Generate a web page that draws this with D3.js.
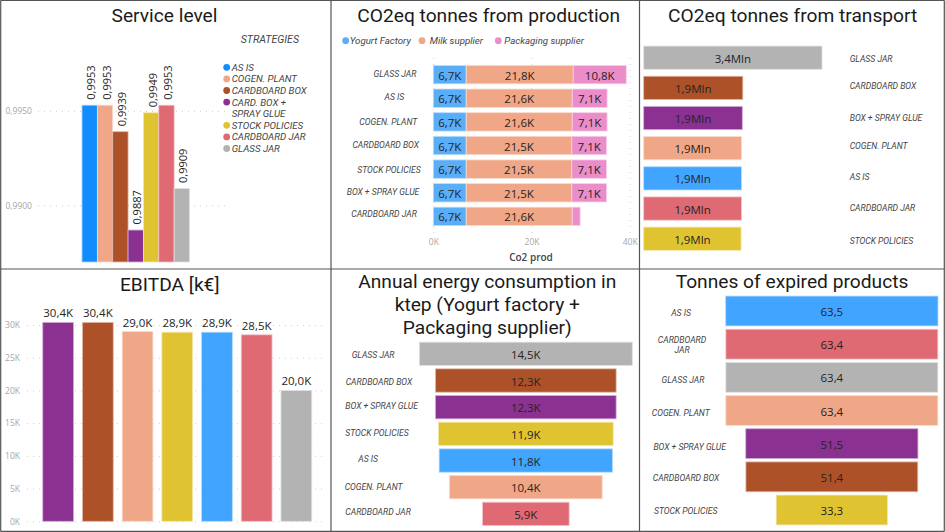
<!DOCTYPE html>
<html>
<head>
<meta charset="utf-8">
<script src="https://cdn.jsdelivr.net/npm/d3@7"></script>
<style>
  html, body { margin: 0; padding: 0; background: #fff; overflow: hidden; }
  text { font-family: 'Open Sans', sans-serif; }
  .title { font-family: Roboto, sans-serif; font-size: 19.2px; fill: #1a1a1a; text-anchor: middle; }
  .cat { font-family: Roboto, sans-serif; font-style: italic; font-size: 8.6px; fill: #444; }
  .leg { font-family: Roboto, sans-serif; font-style: italic; font-size: 9.7px; fill: #444; }
  .val { font-size: 11.5px; fill: #252423; text-anchor: middle; }
  .tick text { font-size: 8.5px; fill: #a6a6a6; }
  .tick line { stroke: #cfcfcf; stroke-dasharray: 1 5; }
  .domain { display: none; }
</style>
</head>
<body>
<svg id="chart" width="945" height="532"></svg>
<script>
"use strict"

var strategyColors = {
  'AS IS': '#41A4FF',
  'COGEN. PLANT': '#F0A787',
  'CARDBOARD BOX': '#AD5128',
  'BOX + SPRAY GLUE': '#8A3192',
  'STOCK POLICIES': '#E0C330',
  'CARDBOARD JAR': '#DF6A73',
  'GLASS JAR': '#B3B3B3'
};

// service level
var serviceCats = ['AS IS', 'COGEN. PLANT', 'CARDBOARD BOX', 'BOX + SPRAY GLUE', 'STOCK POLICIES', 'CARDBOARD JAR', 'GLASS JAR'];
var serviceVals = [0.9953, 0.9953, 0.9939, 0.9887, 0.9949, 0.9953, 0.9909];
var serviceTicks = [0.99, 0.995];
var legendLabels = [['AS IS'], ['COGEN. PLANT'], ['CARDBOARD BOX'], ['CARD. BOX +', 'SPRAY GLUE'], ['STOCK POLICIES'], ['CARDBOARD JAR'], ['GLASS JAR']];

// CO2 from production, k tonnes
var prodCats = ['GLASS JAR', 'AS IS', 'COGEN. PLANT', 'CARDBOARD BOX', 'STOCK POLICIES', 'BOX + SPRAY GLUE', 'CARDBOARD JAR'];
var prodSeries = ['Yogurt Factory', 'Milk supplier', 'Packaging supplier'];
var prodYogurt = [6.7, 6.7, 6.7, 6.7, 6.7, 6.7, 6.7];
var prodMilk = [21.8, 21.6, 21.6, 21.5, 21.5, 21.5, 21.6];
var prodPack = [10.8, 7.1, 7.1, 7.1, 7.1, 7.1, 1.6];
var prodTicks = [0, 20, 40];

// CO2 from transport, Mln tonnes
var transCats = ['GLASS JAR', 'CARDBOARD BOX', 'BOX + SPRAY GLUE', 'COGEN. PLANT', 'AS IS', 'CARDBOARD JAR', 'STOCK POLICIES'];
var transVals = [3.4, 1.89, 1.88, 1.865, 1.865, 1.865, 1.857];

// EBITDA
var ebitdaCats = ['BOX + SPRAY GLUE', 'CARDBOARD BOX', 'COGEN. PLANT', 'STOCK POLICIES', 'AS IS', 'CARDBOARD JAR', 'GLASS JAR'];
var ebitdaVals = [30.4, 30.4, 29.0, 28.9, 28.9, 28.5, 20.0];
var ebitdaTicks = [0, 5, 10, 15, 20, 25, 30];

// energy funnel
var energyCats = ['GLASS JAR', 'CARDBOARD BOX', 'BOX + SPRAY GLUE', 'STOCK POLICIES', 'AS IS', 'COGEN. PLANT', 'CARDBOARD JAR'];
var energyVals = [14.5, 12.3, 12.3, 11.9, 11.8, 10.4, 5.9];

// expired funnel
var expiredCats = ['AS IS', 'CARDBOARD JAR', 'GLASS JAR', 'COGEN. PLANT', 'BOX + SPRAY GLUE', 'CARDBOARD BOX', 'STOCK POLICIES'];
var expiredVals = [63.5, 63.4, 63.4, 63.4, 51.5, 51.4, 33.3];

var svg = d3.select('#chart');
var comma = d3.formatLocale({ decimal: ',', thousands: '.', grouping: [3], currency: ['', '€'] });
var f1 = comma.format('.1f');
var f4 = comma.format('.4f');
var tickK = d => d + 'K';

function title(lines, x, y, step) {
  lines.forEach((t, i) => {
    svg.append('text').attr('class', 'title').attr('x', x).attr('y', y + i * step).text(t);
  });
}

// cat labels are hand placed text boxes in the original, so they get their own spots
function catLabels(names, xs, ys, anchor) {
  names.forEach((n, i) => {
    svg.append('text').attr('class', 'cat')
      .attr('x', xs[i]).attr('y', ys[i] + 3.2)
      .attr('text-anchor', anchor)
      .text(n);
  });
}

function bar(sel, color) {
  return sel.attr('fill', color)
    .attr('stroke', d3.interpolateRgb(color, '#fff')(0.6))
    .attr('stroke-width', 0.8);
}

// service level ------------------------------------------------------
var sx = d3.scaleBand().domain(serviceCats).range([82, 189.5]);
var sy = d3.scaleLinear().domain([0.98701, 0.9953]).range([262, 105.2]);

svg.append('g').attr('transform', 'translate(38,0)')
  .call(d3.axisLeft(sy).tickValues(serviceTicks).tickFormat(f4).tickSize(-192).tickPadding(6));

serviceCats.forEach((c, i) => {
  var color = c == 'AS IS' ? '#118DFF' : strategyColors[c];
  bar(svg.append('rect'), color)
    .attr('x', sx(c)).attr('width', sx.bandwidth())
    .attr('y', sy(serviceVals[i])).attr('height', sy.range()[0] - sy(serviceVals[i]));
  svg.append('text').attr('class', 'val')
    .attr('transform', 'translate(' + (sx(c) + sx.bandwidth() / 2 + 5.5) + ',' + (sy(serviceVals[i]) - 5.5) + ') rotate(-90)')
    .style('text-anchor', 'start')
    .style('font-size', '11px')
    .text(f4(serviceVals[i]));
});

title(['Service level'], 164.5, 22, 0);

svg.append('text').attr('class', 'leg')
  .attr('x', 240.7).attr('y', 42.5).style('font-size', '10.6px').text('STRATEGIES');

var legendY = d3.scaleLinear().domain([0, 1]).range([67.3, 78.9]);
var row = 0;
serviceCats.forEach((c, i) => {
  svg.append('circle')
    .attr('cx', 226.7).attr('cy', legendY(row)).attr('r', 3.4)
    .attr('fill', c == 'AS IS' ? '#118DFF' : strategyColors[c]);
  legendLabels[i].forEach(t => {
    svg.append('text').attr('class', 'leg')
      .attr('x', 231.7).attr('y', legendY(row) + 3.5).text(t);
    row++;
  });
});

// production ---------------------------------------------------------
var px = d3.scaleLinear().domain([0, 40]).range([433.3, 629.7]);
var py = d3.scaleBand().domain(prodCats).range([62.8, 228.2]).paddingInner(0.22).paddingOuter(0.11);
var prodColors = ['#5AAEF8', '#F0A787', '#EA8DC9'];

svg.append('g').attr('transform', 'translate(0,233)')
  .call(d3.axisTop(px).tickValues(prodTicks).tickFormat(tickK).tickSize(176))
  .selectAll('text').attr('y', 6).attr('dy', '.71em');

prodCats.forEach((c, i) => {
  var parts = [prodYogurt[i], prodMilk[i], prodPack[i]];
  var start = 0;
  parts.forEach((v, j) => {
    bar(svg.append('rect'), prodColors[j])
      .attr('x', px(start)).attr('width', px(start + v) - px(start))
      .attr('y', py(c)).attr('height', py.bandwidth());
    if (v > 2) {
      svg.append('text').attr('class', 'val')
        .attr('x', (px(start) + px(start + v)) / 2).attr('y', py(c) + py.bandwidth() / 2 + 5)
        .text(f1(v) + 'K');
    }
    start += v;
  });
});

title(['CO2eq tonnes from production'], 488.7, 22, 0);

[345.7, 422, 498.3].forEach((x, i) => {
  svg.append('circle').attr('cx', x).attr('cy', 40.7).attr('r', 3.4).attr('fill', prodColors[i]);
});
[349.7, 429.7, 504.3].forEach((x, i) => {
  svg.append('text').attr('class', 'leg')
    .attr('x', x).attr('y', 44.2).text(prodSeries[i]);
});

catLabels(prodCats, [395, 394.3, 388.3, 385.7, 389, 383, 384], [74, 97, 121.3, 145, 170, 192, 213.3], 'middle');

svg.append('text')
  .attr('x', 531).attr('y', 261).attr('text-anchor', 'middle')
  .style('font-size', '10px').style('font-weight', 600).attr('fill', '#444')
  .text('Co2 prod');

// transport ----------------------------------------------------------
var tx = d3.scaleLinear().domain([0, 3.4]).range([643.7, 822]);
var ty = d3.scaleBand().domain(transCats).range([42.6, 253.8]).paddingInner(0.23).paddingOuter(0.115);

transCats.forEach((c, i) => {
  bar(svg.append('rect'), strategyColors[c])
    .attr('x', tx(0)).attr('width', tx(transVals[i]) - tx(0))
    .attr('y', ty(c)).attr('height', ty.bandwidth());
  svg.append('text').attr('class', 'val')
    .attr('x', (tx(0) + tx(transVals[i])) / 2).attr('y', ty(c) + ty.bandwidth() / 2 + 5)
    .text(f1(transVals[i]) + 'Mln');
});

title(['CO2eq tonnes from transport'], 792.7, 22, 0);
catLabels(transCats, d3.range(7).map(() => 849.7), [58.7, 85.3, 117.7, 146, 176.3, 208, 240.3], 'start');

// ebitda -------------------------------------------------------------
var ex = d3.scaleBand().domain(ebitdaCats).range([38.3, 316.2]).paddingInner(0.225).paddingOuter(0.1125);
var ey = d3.scaleLinear().domain([0, 30]).range([521.3, 325]);

svg.append('g').attr('transform', 'translate(27,0)')
  .call(d3.axisLeft(ey).tickValues(ebitdaTicks).tickFormat(tickK).tickSize(-300).tickPadding(7));

ebitdaCats.forEach((c, i) => {
  bar(svg.append('rect'), strategyColors[c])
    .attr('x', ex(c)).attr('width', ex.bandwidth())
    .attr('y', ey(ebitdaVals[i])).attr('height', ey(0) - ey(ebitdaVals[i]));
  svg.append('text').attr('class', 'val')
    .attr('x', ex(c) + ex.bandwidth() / 2).attr('y', ey(ebitdaVals[i]) - 5)
    .text(f1(ebitdaVals[i]) + 'K');
});

title(['EBITDA [k€]'], 169.7, 291, 0);

// energy funnel ------------------------------------------------------
var nx = d3.scaleLinear().domain([-7.25, 7.25]).range([419.3, 632.3]);
var ny = d3.scaleBand().domain(energyCats).range([340.5, 527.2]).paddingInner(0.125).paddingOuter(0.0625);

energyCats.forEach((c, i) => {
  bar(svg.append('rect'), strategyColors[c])
    .attr('x', nx(-energyVals[i] / 2)).attr('width', nx(energyVals[i] / 2) - nx(-energyVals[i] / 2))
    .attr('y', ny(c)).attr('height', ny.bandwidth());
  svg.append('text').attr('class', 'val')
    .attr('x', nx(0)).attr('y', ny(c) + ny.bandwidth() / 2 + 5)
    .text(f1(energyVals[i]) + 'K');
});

title(['Annual energy consumption in', 'ktep (Yogurt factory +', 'Packaging supplier)'], 487.3, 287.7, 23.3);
catLabels(energyCats, [351.7, 345.7, 345.3, 345.3, 358.3, 344.7, 345.3], [354.3, 381.3, 405.3, 432.3, 458.7, 486.3, 512], 'start');

// expired funnel -----------------------------------------------------
var xx = d3.scaleLinear().domain([-31.75, 31.75]).range([725.7, 938]);
var xy = d3.scaleBand().domain(expiredCats).range([294.4, 526.6]).paddingInner(0.1).paddingOuter(0.05);

expiredCats.forEach((c, i) => {
  bar(svg.append('rect'), strategyColors[c])
    .attr('x', xx(-expiredVals[i] / 2)).attr('width', xx(expiredVals[i] / 2) - xx(-expiredVals[i] / 2))
    .attr('y', xy(c)).attr('height', xy.bandwidth());
  svg.append('text').attr('class', 'val')
    .attr('x', xx(0)).attr('y', xy(c) + xy.bandwidth() / 2 + 5)
    .text(f1(expiredVals[i]));
});

title(['Tonnes of expired products'], 792, 288.3, 0);
catLabels(['AS IS', 'CARDBOARD', 'JAR', 'GLASS JAR', 'COGEN. PLANT', 'BOX + SPRAY GLUE', 'CARDBOARD BOX', 'STOCK POLICIES'],
  [681, 682, 682, 683, 680.7, 689.7, 686, 685.7],
  [312.3, 340, 349.7, 379.3, 412.7, 446.7, 477.3, 511], 'middle');

// panel borders
[[0.5, 0.5, 944.5, 0.5], [0.5, 269, 944.5, 269], [0.5, 531.3, 944.5, 531.3],
 [0.7, 0.5, 0.7, 531.3], [331, 0.5, 331, 531.3], [639.5, 0.5, 639.5, 531.3], [944.3, 0.5, 944.3, 531.3]].forEach(l => {
  svg.append('line')
    .attr('x1', l[0]).attr('y1', l[1]).attr('x2', l[2]).attr('y2', l[3])
    .attr('stroke', '#555').attr('stroke-width', 1.2);
});
</script>
</body>
</html>
